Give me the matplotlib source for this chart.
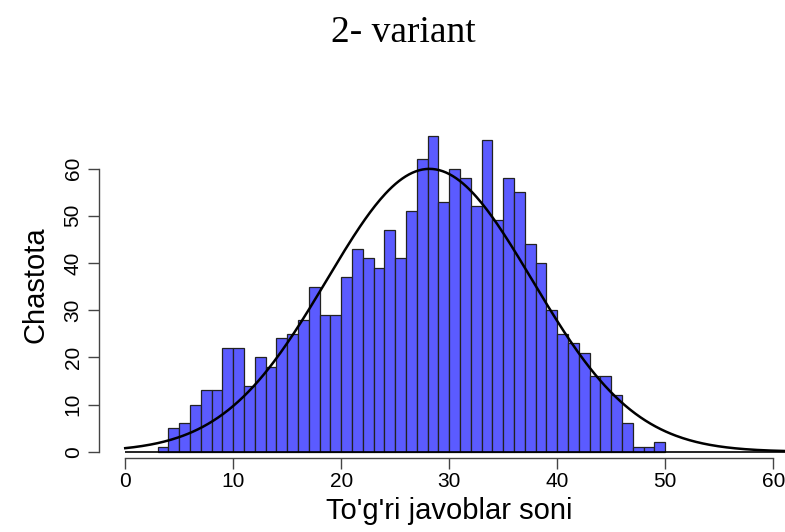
import numpy as np
import matplotlib
matplotlib.use('Agg')
import matplotlib.pyplot as plt

# histogram counts, bins (k, k+1]
bin_left = list(range(3, 50))
counts = [1, 5, 6, 10, 13, 13, 22, 22, 14, 20, 18, 24, 25, 28, 35, 29, 29,
          37, 43, 41, 39, 47, 41, 51, 62, 67, 53, 60, 58, 52, 66, 49, 58, 55,
          44, 40, 30, 25, 23, 21, 16, 16, 12, 6, 1, 1, 2]
xticks = [0, 10, 20, 30, 40, 50, 60]
yticks = [0, 10, 20, 30, 40, 50, 60]
title = '2- variant'
xlabel = "To'g'ri javoblar soni"
ylabel = 'Chastota'

plt.rcParams['font.family'] = ['Liberation Sans', 'DejaVu Sans']

fig = plt.figure(figsize=(7.85, 5.32), dpi=100)
ax = fig.add_axes([0.1265, 0.1385, 0.8916, 0.6511])

ax.bar(bin_left, counts, width=1, align='edge', color='#5b5bff',
       edgecolor='#222222', linewidth=0.9, zorder=2)

# normal curve fitted to the same data (values sit on the bin upper edges)
vals = np.repeat(np.array(bin_left) + 1, counts)
mu, sd = vals.mean(), vals.std(ddof=1)
n = len(vals)
xs = np.linspace(0, 62.4, 400)
ys = n * np.exp(-0.5 * ((xs - mu) / sd) ** 2) / (sd * np.sqrt(2 * np.pi))
ax.plot(xs, ys, color='black', lw=1.8, zorder=3)
ax.hlines(0, 0, 62.4, color='black', lw=1.2, zorder=3)

ax.set_xlim(-2.4, 62.4)
ax.set_ylim(-1.4, 72)
for s in ['top', 'right']:
    ax.spines[s].set_visible(False)
ax.spines['left'].set_bounds(0, 60)
ax.spines['bottom'].set_bounds(0, 60)
for s in ['left', 'bottom']:
    ax.spines[s].set_color('#444444')
    ax.spines[s].set_linewidth(1.0)

ax.set_xticks(xticks)
ax.set_yticks(yticks)
ax.tick_params(axis='both', length=8, width=1.0, color='#444444',
               labelsize=15, direction='out')
ax.tick_params(axis='x', pad=2)
ax.tick_params(axis='y', pad=4)
for lab in ax.get_yticklabels():
    lab.set_rotation(90)
    lab.set_va('center')

ax.set_xlabel(xlabel, fontsize=21, labelpad=4)
ax.set_ylabel(ylabel, fontsize=21, labelpad=10)

fig.text(0.514, 1 - 42 / 532, title, ha='center', va='baseline',
         fontsize=27, family='Liberation Serif')

fig.savefig('out.png', dpi=100)
